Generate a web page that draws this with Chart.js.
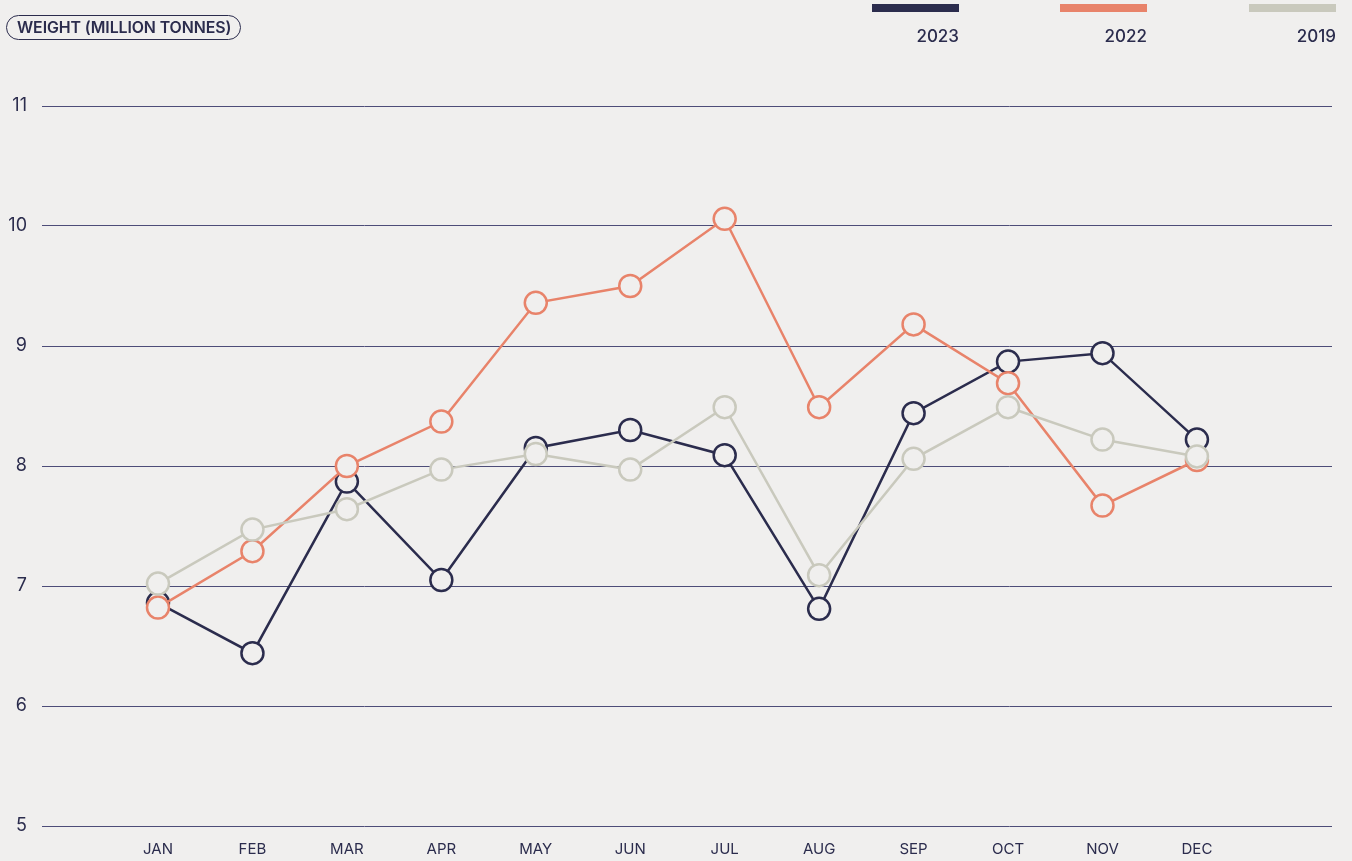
<!DOCTYPE html>
<html>
<head>
<meta charset="utf-8">
<script src="https://cdn.jsdelivr.net/npm/chart.js@4/dist/chart.umd.min.js"></script>
<style>
  html, body { margin: 0; padding: 0; background: #f0efee; }
  body { width: 1352px; height: 861px; position: relative; overflow: hidden; font-family: Inter, "Noto Sans", sans-serif; color: #2b2c4d; }
  #wrap { position: absolute; left: 0; top: 0; width: 1352px; height: 861px; }
  #pill { position: absolute; left: 6px; top: 15px; height: 23px; line-height: 24px; padding: 0 9px 0 10px; border: 1.5px solid #2b2c4d; border-radius: 13px; font-size: 15.9px; font-weight: 600; letter-spacing: -0.1px; }
  .leg { position: absolute; top: 4px; width: 87px; text-align: right; }
  .leg .bar { height: 8px; width: 87px; }
  .leg .txt { margin-top: 14px; font-size: 17px; font-weight: 500; }
</style>
</head>
<body>
<div id="wrap"><canvas id="c" width="1352" height="861"></canvas></div>
<div id="pill">WEIGHT (MILLION TONNES)</div>
<div id="legend"></div>
<script>
const months = ["JAN","FEB","MAR","APR","MAY","JUN","JUL","AUG","SEP","OCT","NOV","DEC"];
const seriesNames = ["2023", "2022", "2019"];
const values2023 = [6.86, 6.44, 7.87, 7.05, 8.15, 8.30, 8.09, 6.81, 8.44, 8.87, 8.94, 8.22];
const values2022 = [6.82, 7.29, 8.00, 8.37, 9.36, 9.50, 10.06, 8.49, 9.18, 8.69, 7.67, 8.05];
const values2019 = [7.02, 7.47, 7.64, 7.97, 8.10, 7.97, 8.49, 7.09, 8.06, 8.49, 8.22, 8.08];
const yTicks = [5, 6, 7, 8, 9, 10, 11];

const colors = ["#2b2c4d", "#e8836a", "#c9c9bd"];
const bg = "#f0efee";
const allValues = [values2023, values2022, values2019];

const datasets = allValues.map((vals, i) => ({
  label: seriesNames[i],
  data: vals.map((v, j) => ({ x: j + 1, y: v })),
  borderColor: colors[i],
  backgroundColor: bg,
  pointBackgroundColor: bg,
  pointBorderColor: colors[i],
  borderWidth: 2.5,
  pointBorderWidth: 2.5,
  pointRadius: 11,
  pointHoverRadius: 11,
  tension: 0,
  order: 2 - i
}));

// HTML legend
const legendPos = [872, 1060, 1249];
const legend = document.getElementById('legend');
seriesNames.forEach((n, i) => {
  const d = document.createElement('div');
  d.className = 'leg';
  d.style.left = legendPos[i] + 'px';
  d.innerHTML = '<div class="bar" style="background:' + colors[i] + '"></div><div class="txt">' + n + '</div>';
  legend.appendChild(d);
});

new Chart(document.getElementById('c'), {
  type: 'line',
  data: { datasets },
  options: {
    responsive: false,
    animation: false,
    layout: { padding: { top: 106, right: 20, left: 0, bottom: 0 } },
    plugins: { legend: { display: false }, tooltip: { enabled: false } },
    scales: {
      x: {
        type: 'linear',
        min: -0.228,
        max: 13.43,
        grid: { display: false, drawTicks: false },
        border: { display: false },
        afterBuildTicks: (s) => { s.ticks = months.map((m, i) => ({ value: i + 1 })); },
        afterFit: (s) => { s.height = 35; },
        ticks: {
          autoSkip: false,
          maxRotation: 0,
          padding: 14,
          color: "#2b2c4d",
          font: { family: "Inter", size: 15 },
          callback: (v) => months[v - 1] || ''
        }
      },
      y: {
        min: 5,
        max: 11,
        afterBuildTicks: (s) => { s.ticks = yTicks.map(v => ({ value: v })); },
        afterFit: (s) => { s.width = 42; },
        grid: { color: "#4d4d78", lineWidth: 1, drawTicks: false },
        border: { display: false },
        ticks: {
          padding: 15,
          crossAlign: 'near',
          color: "#2b2c4d",
          font: { family: "Inter", size: 18 }
        }
      }
    }
  }
});
</script>
</body>
</html>
